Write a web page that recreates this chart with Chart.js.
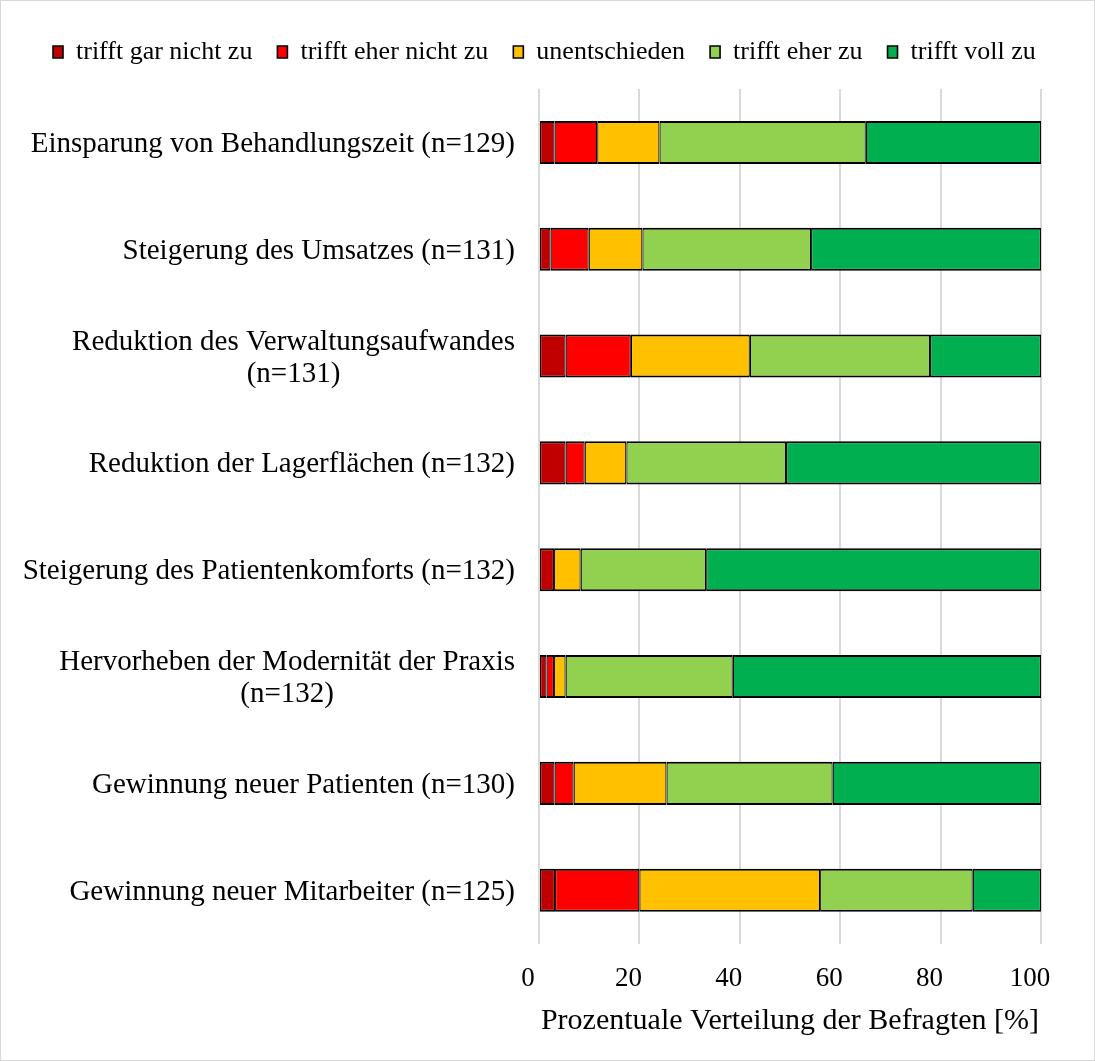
<!DOCTYPE html>
<html lang="de">
<head>
<meta charset="utf-8">
<title>Prozentuale Verteilung der Befragten</title>
<script src="https://cdn.jsdelivr.net/npm/chart.js@4"></script>
<style>
  html, body { margin: 0; padding: 0; background: #fff; }
  #barChart { display: block; }
</style>
</head>
<body>
<canvas id="barChart" width="1095" height="1061"></canvas>
<script>
// Kategorien (Zeilenumbruch als Array)
const categories = [
    'Einsparung von Behandlungszeit (n=129)',
    'Steigerung des Umsatzes (n=131)',
    ['Reduktion des Verwaltungsaufwandes', '(n=131)'],
    'Reduktion der Lagerflächen (n=132)',
    'Steigerung des Patientenkomforts (n=132)',
    ['Hervorheben der Modernität der Praxis', '(n=132)'],
    'Gewinnung neuer Patienten (n=130)',
    'Gewinnung neuer Mitarbeiter (n=125)'
];

// Anteile in Prozent je Antwortstufe
const garNicht   = [3.1, 2.3, 5.3, 5.3, 3.0, 1.5, 3.1, 3.2];
const eherNicht  = [8.5, 7.6, 13.0, 3.8, 0.0, 1.5, 3.8, 16.8];
const unentsch   = [12.4, 10.7, 23.7, 8.3, 5.3, 2.3, 18.5, 36.0];
const eherZu     = [41.1, 33.6, 35.9, 31.8, 25.0, 33.3, 33.1, 30.4];
const vollZu     = [34.9, 45.8, 22.1, 50.8, 66.7, 61.4, 41.5, 13.6];

const xTicks = [0, 20, 40, 60, 80, 100];

const FONT = "'Liberation Serif', 'Times New Roman', serif";

const makeSet = (label, data, color) => ({
    label: label,
    data: data,
    backgroundColor: color,
    borderColor: '#000000',
    borderWidth: { top: 2, bottom: 2, left: 1.2, right: 1.2 },
    borderSkipped: false,
    barPercentage: 0.403,
    categoryPercentage: 1.0
});

// Rahmen, Legendenversatz, Kategorienbeschriftung links
const frameAndLabels = {
    id: 'frameAndLabels',
    beforeLayout(chart) {
        const lg = chart.legend;
        if (lg && !lg._extraGap) {
            const fit = lg.fit;
            lg.fit = function () { fit.call(this); this.height += 14; };
            lg._extraGap = true;
        }
    },
    afterLayout(chart) {
        // Legende etwas nach rechts schieben
        chart.legend.left += 28;
        chart.legend.right += 28;
    },
    beforeDraw(chart) {
        const ctx = chart.ctx;
        ctx.save();
        ctx.fillStyle = '#ffffff';
        ctx.fillRect(0, 0, chart.width, chart.height);
        ctx.strokeStyle = '#d9d9d9';
        ctx.lineWidth = 1;
        ctx.strokeRect(0.5, 0.5, chart.width - 1, chart.height - 1);
        ctx.restore();
    },
    afterDraw(chart) {
        const ctx = chart.ctx;
        const yScale = chart.scales.y;
        const right = chart.chartArea.left - 24;
        const lineH = 32;
        ctx.save();
        ctx.font = '29px ' + FONT;
        ctx.fillStyle = '#000000';
        ctx.textBaseline = 'middle';
        ctx.textAlign = 'center';
        categories.forEach((lab, i) => {
            const lines = Array.isArray(lab) ? lab : [lab];
            const w = Math.max(...lines.map(l => ctx.measureText(l).width));
            const cx = right - w / 2;
            const yc = yScale.getPixelForValue(i) + 2;
            lines.forEach((l, k) => {
                ctx.fillText(l, cx, yc + (k - (lines.length - 1) / 2) * lineH);
            });
        });
        ctx.restore();
    }
};

(() => {
    'use strict'
    const chart = document.querySelector('#barChart') ?? '';

    if(chart == ""){
        return false;
    } else{
        new Chart(chart, {
            type: 'bar',
            data: {
                labels: categories,
                datasets: [
                    makeSet('trifft gar nicht zu', garNicht, '#C00000'),
                    makeSet('trifft eher nicht zu', eherNicht, '#FF0000'),
                    makeSet('unentschieden', unentsch, '#FFC000'),
                    makeSet('trifft eher zu', eherZu, '#92D050'),
                    makeSet('trifft voll zu', vollZu, '#00B050')
                ]
            },
            options: {
                indexAxis: 'y',
                responsive: false,
                animation: false,
                layout: {
                    padding: { top: 14, right: 54, bottom: 22, left: 0 }
                },
                plugins: {
                    legend: {
                        position: 'top',
                        align: 'start',
                        labels: {
                            boxWidth: 10,
                            boxHeight: 12,
                            padding: 25,
                            color: '#000000',
                            font: { family: FONT, size: 26 }
                        }
                    },
                    tooltip: { enabled: false }
                },
                scales: {
                    x: {
                        stacked: true,
                        min: 0,
                        max: 100,
                        afterBuildTicks: (s) => { s.ticks = xTicks.map(v => ({ value: v })); },
                        grid: { color: '#d9d9d9', lineWidth: 2, drawTicks: false },
                        border: { display: false },
                        ticks: {
                            color: '#000000',
                            font: { family: FONT, size: 27 },
                            padding: 19,
                            labelOffset: -11,
                            maxRotation: 0
                        },
                        title: {
                            display: true,
                            text: 'Prozentuale Verteilung der Befragten [%]',
                            color: '#000000',
                            font: { family: FONT, size: 30 },
                            padding: { top: -11, bottom: 0 }
                        }
                    },
                    y: {
                        stacked: true,
                        grid: { display: false },
                        border: { display: false },
                        ticks: { display: false },
                        afterFit: (s) => { s.width = 539; }
                    }
                }
            },
            plugins: [frameAndLabels]
        });
    }
})();
</script>
</body>
</html>
